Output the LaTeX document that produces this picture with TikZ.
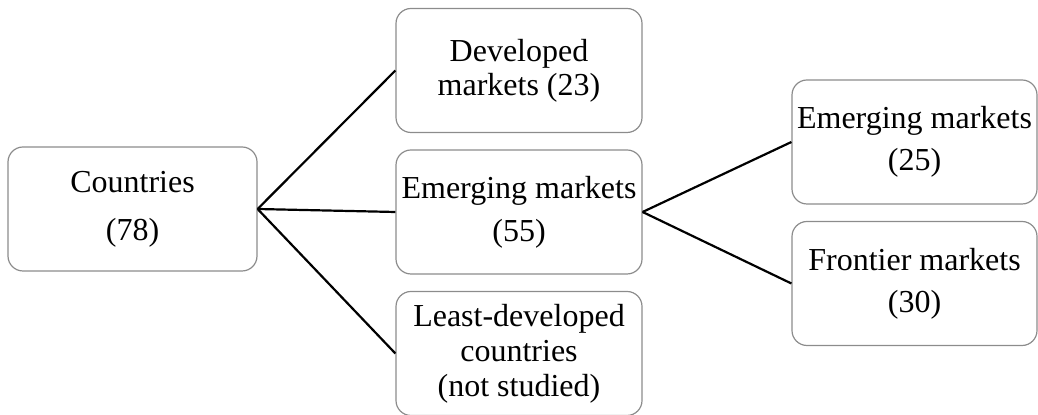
\documentclass[tikz,border=0pt]{standalone}
\usepackage{fontspec}
\setmainfont{Liberation Serif}
\usetikzlibrary{positioning}

\begin{document}
\begin{tikzpicture}[
  x=0.5pt, y=-0.5pt,
  mkt/.style={rectangle, rounded corners=7.5pt, draw=gray!90, line width=0.6pt,
              minimum width=123pt, minimum height=62pt, inner sep=0pt,
              align=center, font=\fontsize{16}{17}\selectfont},
  ln/.style={black, line width=1.1pt}
]
\useasboundingbox (0,0) rectangle (1038,415);

\node[mkt, minimum width=124.5pt] (countries) at (132.5,209) {Countries\\[7pt](78)};

\node[mkt] (developed) at (519,70.5)  {Developed\\markets (23)};
\node[mkt] (emerging)  at (519,212)   {Emerging markets\\[4.5pt](55)};
\node[mkt] (least)     at (519,353.5) {Least-developed\\[0.5pt]countries\\[0.5pt](not studied)};

\node[mkt, minimum width=122.5pt] (emsub)    at (914.5,142)   {Emerging markets\\[4pt](25)};
\node[mkt, minimum width=122.5pt] (frontier) at (914.5,283.5) {Frontier markets\\[4pt](30)};

\draw[ln] (countries.east) -- (developed.west);
\draw[ln] (countries.east) -- (emerging.west);
\draw[ln] (countries.east) -- (least.west);
\draw[ln] (emerging.east)  -- (emsub.west);
\draw[ln] (emerging.east)  -- (frontier.west);
\end{tikzpicture}
\end{document}
